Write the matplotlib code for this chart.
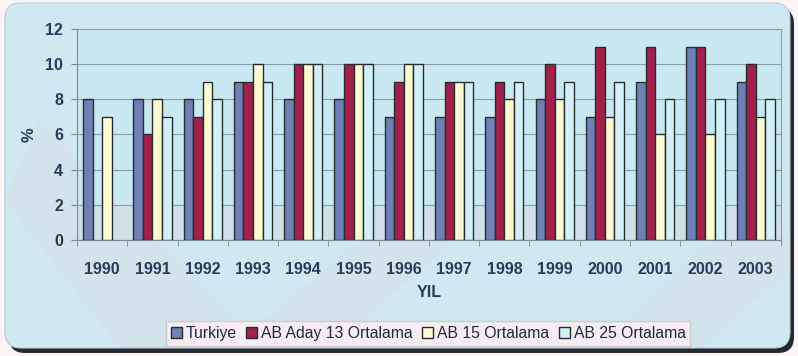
import numpy as np
import matplotlib.pyplot as plt
from matplotlib.patches import FancyBboxPatch, Polygon

years = ['1990', '1991', '1992', '1993', '1994', '1995', '1996',
         '1997', '1998', '1999', '2000', '2001', '2002', '2003']
turkiye = [8, 8, 8, 9, 8, 8, 7, 7, 7, 8, 7, 9, 11, 9]
ab_aday13 = [np.nan, 6, 7, 9, 10, 10, 9, 9, 9, 10, 11, 11, 11, 10]
ab15 = [7, 8, 9, 10, 10, 10, 10, 9, 8, 8, 7, 6, 6, 7]
ab25 = [np.nan, 7, 8, 9, 10, 10, 10, 9, 9, 9, 9, 8, 8, 8]
series_names = ['Turkiye', 'AB Aday 13 Ortalama', 'AB 15 Ortalama', 'AB 25 Ortalama']
colors = ['#6f80b4', '#a3204c', '#fdfbd2', '#d3f0f8']

plt.rcParams['font.family'] = ['Liberation Sans', 'DejaVu Sans']
text_col = '#2b3a58'

fig = plt.figure(figsize=(7.98, 3.56), dpi=100)
fig.patch.set_facecolor('#fbf4f6')

# background panel in pixel units
bg = fig.add_axes([0, 0, 1, 1], zorder=0)
bg.set_xlim(0, 798)
bg.set_ylim(356, 0)
bg.axis('off')
shadow = FancyBboxPatch((9, 8), 785, 345, boxstyle='round,pad=0,rounding_size=16',
                        facecolor='#262a2e', edgecolor='none')
bg.add_patch(shadow)
panel = FancyBboxPatch((5, 3), 785, 345, boxstyle='round,pad=0,rounding_size=16',
                       facecolor='#cfe8f1', edgecolor='#b9cdd6', linewidth=0.8)
bg.add_patch(panel)
# faint diagonal bands across the panel
for pts in [[(5, 200), (120, 348), (260, 348), (40, 120)],
            [(230, 348), (470, 150), (560, 150), (330, 348)],
            [(600, 348), (720, 230), (790, 230), (790, 270), (700, 348)]]:
    band = Polygon(pts, closed=True, facecolor='#e8c8d2', edgecolor='none', alpha=0.15)
    band.set_clip_path(panel)
    bg.add_patch(band)

ax = fig.add_axes([0.0965, 0.326, 0.882, 0.5925], zorder=1)
ax.set_facecolor('#c9e9f2')
ax.axhspan(0, 2, color='#e2c8d2', alpha=0.25, zorder=0)

x = np.arange(len(years))
w = 0.19
for i, (vals, name, c) in enumerate(zip([turkiye, ab_aday13, ab15, ab25], series_names, colors)):
    ax.bar(x + (i - 1.5) * w, vals, width=w, color=c, edgecolor='#2a2d30',
           linewidth=1.0, label=name, zorder=3)

ax.set_ylim(0, 12)
ax.set_xlim(-0.5, len(years) - 0.5)
ax.set_yticks(range(0, 13, 2))
ax.yaxis.grid(True, color='#8a9aa6', linewidth=0.8, zorder=1)

ax.set_xticks(x)
ax.set_xticklabels(years)
ax.set_xticks(np.arange(-0.5, len(years)), minor=True)
ax.tick_params(axis='x', which='major', length=0, pad=16, labelsize=11.5, labelcolor=text_col)
ax.tick_params(axis='x', which='minor', length=4, color='#7a8a96', direction='out')
ax.tick_params(axis='y', length=4, color='#7a8a96', labelsize=11.5, labelcolor=text_col, pad=6)
for lbl in ax.get_xticklabels() + ax.get_yticklabels():
    lbl.set_fontweight('bold')

for side in ['top', 'right']:
    ax.spines[side].set_color('#8a9aa6')
ax.spines['left'].set_color('#7a8a96')
ax.spines['bottom'].set_color('#7a8a96')

ax.set_xlabel('YIL', fontsize=11.5, fontweight='bold', color=text_col, labelpad=6)
ax.set_ylabel('%', fontsize=12, fontweight='bold', color=text_col, labelpad=6)

leg = ax.legend(loc='upper center', bbox_to_anchor=(0.499, -0.385), ncol=4,
                frameon=True, fontsize=11.3, handlelength=0.7, handleheight=0.7,
                handletextpad=0.25, columnspacing=0.6, borderpad=0.3,
                fancybox=False, borderaxespad=0)
leg.get_frame().set_facecolor('#fbeef2')
leg.get_frame().set_edgecolor('#c8c8c8')
leg.get_frame().set_alpha(0.9)
for t in leg.get_texts():
    t.set_color('#1e2a3e')

fig.savefig('out.png', dpi=100, facecolor=fig.get_facecolor())
